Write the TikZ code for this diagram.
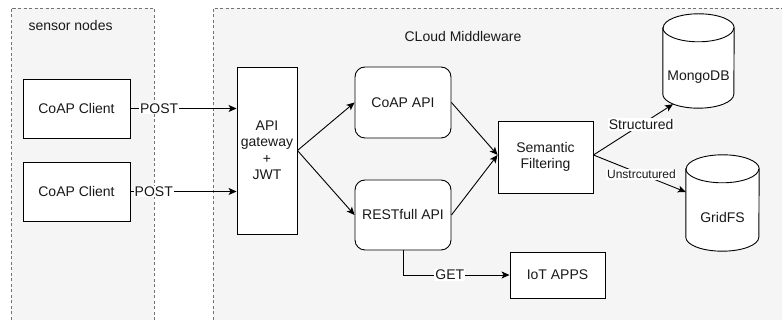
\documentclass[tikz,border=0pt]{standalone}
\usepackage{fontspec}
\setmainfont{Liberation Sans}
\usetikzlibrary{arrows.meta,calc}

\begin{document}
\begin{tikzpicture}[x=1pt,y=1pt,
  every node/.style={font=\fontsize{14}{16.5}\selectfont, text=black!90},
  group/.style={fill=black!4},
  groupline/.style={draw=black!55, dash pattern=on 3pt off 2.5pt, line width=0.7pt},
  plainbox/.style={draw, line width=0.9pt, fill=white, inner sep=0pt, align=center},
  apibox/.style={plainbox, rounded corners=10pt},
  dbbox/.style={inner sep=0pt, draw=none},
  link/.style={draw, line width=0.9pt, -{Stealth[length=8pt,width=7pt,inset=2pt]}},
  tag/.style={fill=white, inner sep=1pt},
  smalltag/.style={tag, font=\fontsize{12}{14}\selectfont}]

\useasboundingbox (0,0) rectangle (782,320);

% group backgrounds (both run off the lower edge)
\fill[group] (11,0) rectangle (154,312);
\fill[group] (213,0) rectangle (782,312);
\draw[groupline] (11,0) -- (11,312) -- (154,312) -- (154,0);
\draw[groupline] (213,0) -- (213,312) -- (782,312);

\node[anchor=west] (sensortitle) at (25,294) {sensor nodes};
\node (cloudtitle) at (463,283) {CLoud Middleware};

% clients and gateway
\node[plainbox, minimum width=107, minimum height=59] (client1) at (76.5,211.5) {CoAP Client};
\node[plainbox, minimum width=107, minimum height=59] (client2) at (76.5,128.5) {CoAP Client};
\node[plainbox, minimum width=60, minimum height=167] (gateway) at (267,169.5) {API\\gateway\\+\\JWT};

% APIs
\node[apibox, minimum width=96, minimum height=71] (coapapi) at (403,217.5) {CoAP API};
\node[apibox, minimum width=96, minimum height=70] (restapi) at (403,105) {RESTfull API};

\node[plainbox, minimum width=95, minimum height=72] (semantic) at (545.5,163) {Semantic\\Filtering};
\node[plainbox, minimum width=95, minimum height=46] (iotapps) at (557.5,45) {IoT APPS};

% databases: cylinders drawn around invisible anchor boxes
\node[dbbox, minimum width=71, minimum height=94] (mongo) at (698.5,259) {};
\node[dbbox, minimum width=73, minimum height=96] (gridfs) at (722.5,117) {};

\foreach \db/\rx in {mongo/35.5, gridfs/36.5}{
  \draw[line width=0.9pt, fill=white]
    ([yshift=-14pt]\db.north west) -- ([yshift=14pt]\db.south west)
    arc[start angle=180, end angle=360, x radius=\rx pt, y radius=14pt]
    -- ([yshift=-14pt]\db.north east)
    arc[start angle=0, end angle=180, x radius=\rx pt, y radius=14pt] -- cycle;
  \draw[line width=0.9pt]
    ([yshift=-14pt]\db.north west)
    arc[start angle=180, end angle=360, x radius=\rx pt, y radius=14pt];
}
\node (mongolabel) at ([yshift=-16pt]mongo.center) {MongoDB};
\node (gridfslabel) at ([yshift=-15pt]gridfs.center) {GridFS};

% connectors
\path[link] (client1.east) -- node[tag, pos=0.27] {POST} (client1.east -| gateway.west);
\path[link] (client2.east) -- node[tag, pos=0.22] {POST} (client2.east -| gateway.west);

\path[link] (gateway.east) -- (coapapi.west);
\path[link] (gateway.east) -- (restapi.west);
\path[link] (coapapi.east) -- ([yshift=2pt]semantic.west);
\path[link] (restapi.east) -- ([yshift=2pt]semantic.west);

\path[link] ([yshift=2pt]semantic.east) -- node[tag, pos=0.6] {Structured}
  ([xshift=-25.5pt,yshift=4pt]mongo.south);
\path[link] ([yshift=2pt]semantic.east) -- node[smalltag, pos=0.52] {Unstrcutured}
  ([yshift=11pt]gridfs.west);

\path[link] (restapi.south) |- node[tag, pos=0.72] {GET} (iotapps.west);

\end{tikzpicture}
\end{document}
